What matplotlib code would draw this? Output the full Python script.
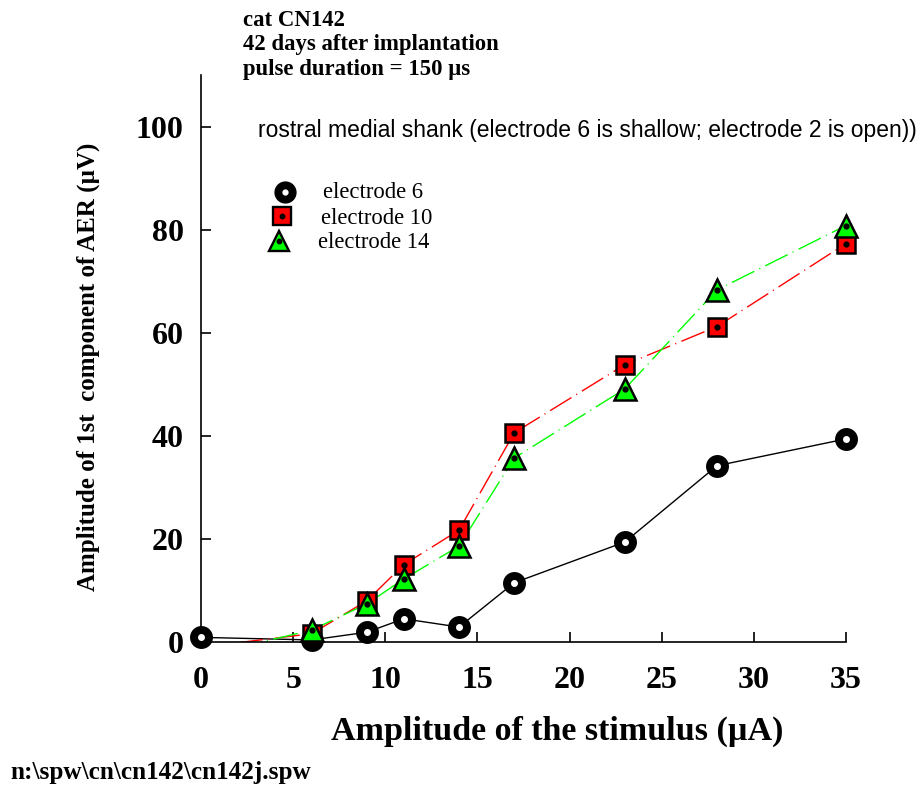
import numpy as np
import matplotlib.pyplot as plt

# stimulus amplitude (uA)
stim = [0, 6, 9, 11, 14, 17, 23, 28, 35]

# AER amplitude (uV)
# the red / green curves start below zero at 0 uA and get cut off by the axis
el6 = [0.9, 0.4, 1.9, 4.5, 2.9, 11.5, 19.4, 34.2, 39.4]
el10 = [-1.0, 1.6, 8.0, 15.0, 21.7, 40.6, 53.8, 61.2, 77.3]
el14 = [-2.8, 2.3, 7.4, 12.2, 18.6, 35.7, 49.1, 68.3, 80.8]

xticks = [0, 5, 10, 15, 20, 25, 30, 35]
yticks = [0, 20, 40, 60, 80, 100]

serif = ['Liberation Serif', 'DejaVu Serif']
sans = ['Liberation Sans', 'DejaVu Sans']
W, H = 924, 787

def fx(px):
    return px / W

def fy(py):
    return 1 - py / H

fig = plt.figure(figsize=(9.24, 7.87), dpi=100)
ax = fig.add_axes([fx(201), fy(642), 645/W, 567/H])

# lines first (clipped to axes), then markers on top
ax.plot(stim, el6, color='black', lw=1.0, zorder=2)
ax.plot(stim, el10, color='#ff0000', lw=1.0, dashes=[18, 4, 0.8, 4], zorder=2)
ax.plot(stim, el14, color='#00ff00', lw=1.0, dashes=[18, 4, 0.8, 4], zorder=2)

ax.plot(stim, el6, ls='none', marker='o', ms=15.5, mfc='black', mec='black', clip_on=False, zorder=3)
ax.plot(stim, el6, ls='none', marker='o', ms=4, mfc='white', mec='white', clip_on=False, zorder=4)

ax.plot(stim[1:], el10[1:], ls='none', marker='s', ms=13, mfc='#ff0000', mec='black', mew=1.8, clip_on=False, zorder=5)
ax.plot(stim[1:], el10[1:], ls='none', marker='o', ms=3.5, mfc='black', mec='black', clip_on=False, zorder=6)

ax.plot(stim[1:], el14[1:], ls='none', marker='^', ms=16, mfc='#00ff00', mec='black', mew=1.8, clip_on=False, zorder=7)
ax.plot(stim[1:], el14[1:], ls='none', marker='o', ms=3.5, mfc='black', mec='black', clip_on=False, zorder=8)

ax.set_xlim(0, 35)
ax.set_ylim(0, 110)
ax.set_xticks(xticks)
ax.set_yticks(yticks)
ax.spines['top'].set_visible(False)
ax.spines['right'].set_visible(False)
for s in ['left', 'bottom']:
    ax.spines[s].set_linewidth(1.2)
ax.tick_params(direction='in', length=7, width=1.2)
ax.tick_params(axis='x', pad=17)
ax.tick_params(axis='y', pad=12.5)
for lab in ax.get_xticklabels() + ax.get_yticklabels():
    lab.set_family(serif)
    lab.set_fontweight('bold')
    lab.set_fontsize(23)

fig.text(fx(557), fy(740), 'Amplitude of the stimulus (\u00b5A)', family=serif, fontweight='bold',
         fontsize=24.5, ha='center', va='baseline')
fig.text(fx(88), fy(367), 'Amplitude of 1st  component of AER (\u00b5V)', family=serif, fontweight='bold',
         fontsize=18, rotation=90, ha='center', va='center')

# header / annotations
fig.text(fx(243), fy(26), 'cat CN142', family=serif, fontweight='bold', fontsize=16.4, va='baseline')
fig.text(fx(243), fy(50), '42 days after implantation', family=serif, fontweight='bold', fontsize=16.4, va='baseline')
fig.text(fx(243), fy(75), 'pulse duration = 150 \u00b5s', family=serif, fontweight='bold', fontsize=16.4, va='baseline')
fig.text(fx(258), fy(131), 'rostral medial shank (electrode 6 is shallow; electrode 2 is open))',
         family=sans, fontsize=16.5, va='center')
fig.text(fx(10), fy(779), 'n:\\spw\\cn\\cn142\\cn142j.spw', family=serif, fontweight='bold', fontsize=18.2, va='baseline')

# hand-placed legend (figure coords)
def legmark(x, y, **kw):
    fig.lines.append(plt.Line2D([fx(x)], [fy(y)], transform=fig.transFigure, **kw))

legmark(285, 192, marker='o', ms=15, mfc='black', mec='black')
legmark(285, 192, marker='o', ms=3.5, mfc='white', mec='white')
legmark(282, 216, marker='s', ms=12.5, mfc='#ff0000', mec='black', mew=1.7)
legmark(282, 216, marker='o', ms=3.2, mfc='black', mec='black')
legmark(279, 241, marker='^', ms=15, mfc='#00ff00', mec='black', mew=1.7)
legmark(279, 241, marker='o', ms=3.2, mfc='black', mec='black')
fig.text(fx(323), fy(192), 'electrode 6', family=serif, fontsize=16.3, va='center')
fig.text(fx(321), fy(218), 'electrode 10', family=serif, fontsize=16.3, va='center')
fig.text(fx(318), fy(243), 'electrode 14', family=serif, fontsize=16.3, va='center')

fig.savefig('out.png', dpi=100)
